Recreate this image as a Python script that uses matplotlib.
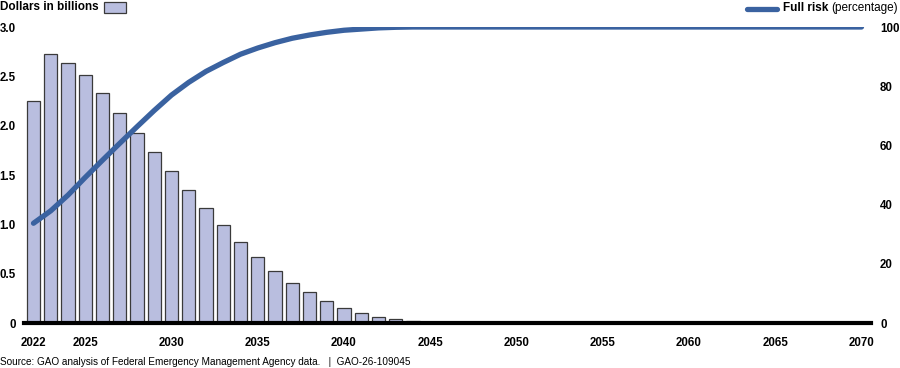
import matplotlib
matplotlib.use("Agg")
import matplotlib.pyplot as plt
from matplotlib.patches import Rectangle
from matplotlib.lines import Line2D

plt.rcParams['font.family'] = ['Liberation Sans', 'DejaVu Sans']

years = list(range(2022, 2071))
dollars = [2.25, 2.73, 2.64, 2.51, 2.33, 2.13, 1.93, 1.73, 1.54, 1.35,
           1.165, 0.99, 0.82, 0.67, 0.53, 0.41, 0.31, 0.22, 0.15, 0.10,
           0.064, 0.037, 0.02, 0.006] + [0.0] * 25
full_risk = [33.7, 37.9, 43.2, 49.2, 55.0, 60.7, 66.3, 71.8, 77.0, 81.3,
             85.0, 88.0, 90.8, 92.9, 94.7, 96.2, 97.3, 98.2, 98.9, 99.3,
             99.7, 99.9] + [100.0] * 27
xticks = [2022, 2025, 2030, 2035, 2040, 2045, 2050, 2055, 2060, 2065, 2070]
left_ticks = [0, 0.5, 1.0, 1.5, 2.0, 2.5, 3.0]
left_labels = ['0', '0.5', '1.0', '1.5', '2.0', '2.5', '3.0']
right_ticks = [0, 20, 40, 60, 80, 100]

bar_color = '#b9bedf'
line_color = '#3a62a0'
fs = 8.3

fig = plt.figure(figsize=(9, 3.68), dpi=100)
ax = fig.add_axes([24 / 900, 1 - 323 / 368, 847 / 900, 296 / 368])

ax.bar(years, dollars, width=0.78, color=bar_color, edgecolor='#3a3a3a', linewidth=0.9, zorder=2)
ax.set_xlim(2021.45, 2070.55)
ax.set_ylim(0, 3.0)
ax.set_yticks(left_ticks)
ax.set_yticklabels(left_labels)
ax.set_xticks(xticks)
ax.axhline(0, color='black', lw=3, zorder=5, clip_on=False)
for s in ax.spines.values():
    s.set_visible(False)
ax.tick_params(axis='both', length=0, labelsize=fs)
ax.tick_params(axis='y', pad=5.8)
ax.tick_params(axis='x', pad=10)
for lab in ax.get_xticklabels() + ax.get_yticklabels():
    lab.set_fontweight('bold')

ax2 = ax.twinx()
ax2.plot(years, full_risk, color=line_color, lw=3.8, solid_capstyle='round', zorder=3)
ax2.set_ylim(0, 100)
ax2.set_yticks(right_ticks)
for s in ax2.spines.values():
    s.set_visible(False)
ax2.tick_params(axis='y', length=0, labelsize=fs, pad=6.5)
for lab in ax2.get_yticklabels():
    lab.set_fontweight('bold')

# legend-like headers
fig.text(0.0, 1 - 7.5 / 368, 'Dollars in billions', fontsize=8.5, fontweight='bold', va='center', ha='left')
fig.patches.append(Rectangle((104 / 900, 1 - 13 / 368), 22 / 900, 11 / 368, transform=fig.transFigure,
                             facecolor=bar_color, edgecolor='#3a3a3a', linewidth=0.9))

t_pct = fig.text(898 / 900, 1 - 8 / 368, '(percentage)', fontsize=8.5, va='center', ha='right')
fig.canvas.draw()
r = fig.canvas.get_renderer()
bb = t_pct.get_window_extent(r)
x_pct = bb.x0 / 900
t_full = fig.text(x_pct - 3 / 900, 1 - 8 / 368, 'Full risk', fontsize=8.5, fontweight='bold', va='center', ha='right')
bb2 = t_full.get_window_extent(r)
x_end = bb2.x0 - 6
fig.lines.append(Line2D([(x_end - 30) / 900, x_end / 900], [1 - 8.5 / 368, 1 - 8.5 / 368], transform=fig.transFigure,
                        color=line_color, lw=3.8, solid_capstyle='round'))

fig.text(0.0, 1 - 362 / 368, 'Source: GAO analysis of Federal Emergency Management Agency data.   |  GAO-26-109045',
         fontsize=7.2, va='center', ha='left')

fig.savefig('out.png', dpi=100)
